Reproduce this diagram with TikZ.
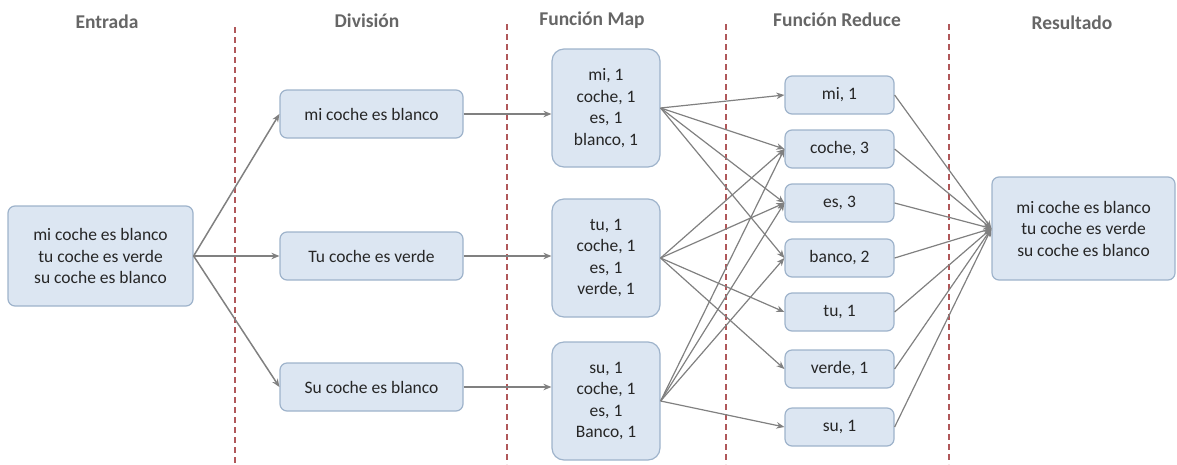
\documentclass[tikz,border=0pt]{standalone}
\usepackage{fontspec}
\setmainfont{Carlito}
\usetikzlibrary{arrows.meta}
\definecolor{boxfill}{HTML}{DCE6F2}
\definecolor{boxdraw}{HTML}{9EB3CB}
\definecolor{arrowc}{HTML}{808080}
\definecolor{sepc}{HTML}{B0585A}
\definecolor{titlec}{HTML}{666666}
\definecolor{textc}{HTML}{262626}
\tikzset{
  box/.style={draw=boxdraw, line width=1.2pt, fill=boxfill, rounded corners=7pt, inner sep=0pt,
    align=center, text=textc, font=\fontsize{17.5}{21.5}\selectfont},
  inbox/.style={box, minimum width=185pt, minimum height=100pt},
  divbox/.style={box, minimum width=183pt, minimum height=48pt},
  mapbox/.style={box, minimum width=108pt, minimum height=118pt, rounded corners=12pt},
  redbox/.style={box, minimum width=109pt, minimum height=38pt},
  title/.style={text=titlec, font=\fontsize{19.5}{22}\selectfont\bfseries},
  conn/.style={draw=arrowc, line width=1.5pt, -{Stealth[length=8pt,width=6.5pt]}},
  thin/.style={draw=arrowc, line width=1.2pt, -{Stealth[length=8pt,width=6.5pt]}},
  sep/.style={draw=sepc, line width=1.5pt, dash pattern=on 6pt off 4pt},
}
\begin{document}
\begin{tikzpicture}[x=1pt, y=-1pt]
\useasboundingbox (0,0) rectangle (1177,464);
% titles
\node[title] (t1) at (107,22) {Entrada};
\node[title] (t2) at (367,21) {División};
\node[title] (t3) at (592,20) {Función Map};
\node[title] (t4) at (837,20) {Función Reduce};
\node[title] (t5) at (1072,23) {Resultado};
% separators
\coordinate (s1a) at (235,27); \coordinate (s1b) at (235,464);
\coordinate (s2a) at (507,24); \coordinate (s2b) at (507,464);
\coordinate (s3a) at (726,24); \coordinate (s3b) at (726,464);
\coordinate (s4a) at (949,24); \coordinate (s4b) at (949,464);
\draw[sep] (s1a) -- (s1b);
\draw[sep] (s2a) -- (s2b);
\draw[sep] (s3a) -- (s3b);
\draw[sep] (s4a) -- (s4b);
% nodes
\node[inbox] (in) at (100.5,256) {mi coche es blanco\\tu coche es verde\\su coche es blanco};
\node[divbox] (d1) at (371.5,114) {mi coche es blanco};
\node[divbox] (d2) at (371.5,256) {Tu coche es verde};
\node[divbox] (d3) at (371.5,387) {Su coche es blanco};
\node[mapbox] (m1) at (606,108) {mi, 1\\coche, 1\\es, 1\\blanco, 1};
\node[mapbox] (m2) at (606,258) {tu, 1\\coche, 1\\es, 1\\verde, 1};
\node[mapbox] (m3) at (606,401) {su, 1\\coche, 1\\es, 1\\Banco, 1};
\node[redbox] (r1) at (839.5,95) {mi, 1};
\node[redbox] (r2) at (839.5,149) {coche, 3};
\node[redbox] (r3) at (839.5,203) {es, 3};
\node[redbox] (r4) at (839.5,258) {banco, 2};
\node[redbox] (r5) at (839.5,312) {tu, 1};
\node[redbox] (r6) at (839.5,369) {verde, 1};
\node[redbox] (r7) at (839.5,427) {su, 1};
\node[box, minimum width=183pt, minimum height=103pt] (res) at (1083.5,228.5) {mi coche es blanco\\tu coche es verde\\su coche es blanco};
% connectors
\draw[conn] (in.east) -- (d1.west);
\draw[conn] (in.east) -- (d2.west);
\draw[conn] (in.east) -- (d3.west);
\draw[conn] (d1.east) -- (d1.east -| m1.west);
\draw[conn] (d2.east) -- (d2.east -| m2.west);
\draw[conn] (d3.east) -- (d3.east -| m3.west);
\foreach \r in {r1,r2,r3,r4} \draw[thin] (m1.east) -- (\r.west);
\foreach \r in {r2,r3,r5,r6} \draw[thin] (m2.east) -- (\r.west);
\foreach \r in {r2,r3,r4,r7} \draw[thin] (m3.east) -- (\r.west);
\foreach \r in {r1,r2,r3,r4,r5,r6,r7} \draw[thin] (\r.east) -- (res.west);
\end{tikzpicture}
\end{document}
